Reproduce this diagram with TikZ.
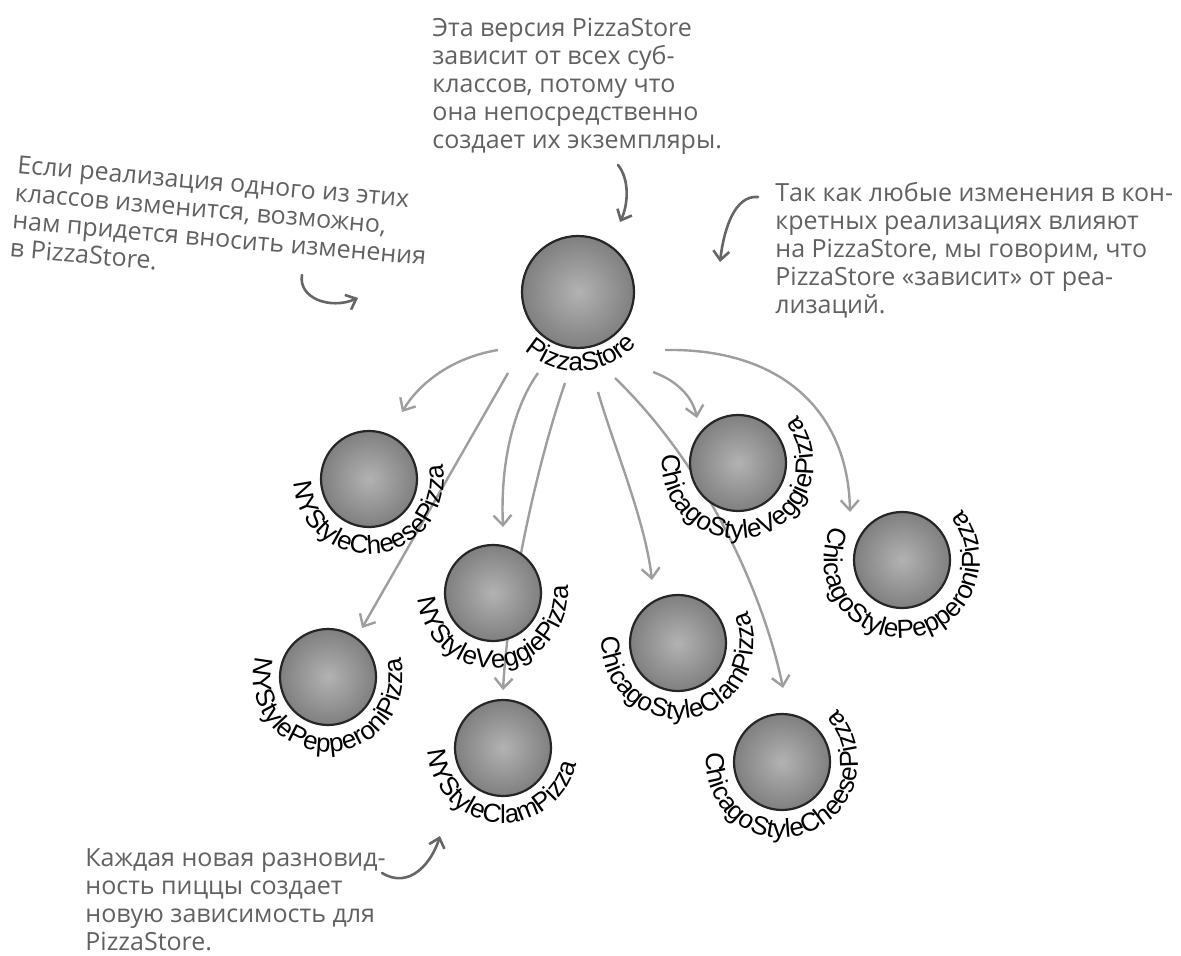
\documentclass[tikz,border=0pt]{standalone}
\usepackage{fontspec}
\setmainfont{Liberation Sans}
\newfontfamily\ballfamily{Liberation Sans}
\newfontfamily\notefamily{Open Sans}
\usetikzlibrary{arrows.meta,calc,decorations.text,backgrounds}
\newcommand{\balltext}{\ballfamily\fontsize{13pt}{15pt}\selectfont}
\newcommand{\notetext}{\notefamily\fontsize{12.5pt}{14pt}\selectfont}
% ball with its name bent round the lower half
\newcommand{\pizzaball}[6][ball]{%
  \node[#1] (#2) at (#3) {};
  \path[decorate, decoration={text along path, text align=center, text={|\balltext|#6}}]
    ($(#2)+(#4-150:#5)$) arc[start angle=#4-150, end angle=#4+150, radius=#5];
}

\begin{document}
\begin{tikzpicture}[
  x=0.5pt, y=0.5pt,
  ball/.style={circle, minimum size=48pt, inner sep=0pt, draw=black!85, line width=1.1pt,
    shade, inner color=black!30, outer color=black!50},
  bigball/.style={ball, minimum size=56pt},
  conn/.style={draw=black!38, line width=1.2pt, -{Straight Barb[length=5pt, width=9pt]}},
  remark/.style={font=\notetext, text=black!62, align=left, inner sep=0pt, anchor=north west},
  remarrow/.style={draw=black!60, line width=1.3pt, line cap=round, -{Straight Barb[length=4.5pt, width=8pt]}}
]
\useasboundingbox (0,0) rectangle (1181,-956);

% the classes
\pizzaball[bigball]{store}{578,-292}{273}{79}{PizzaStore}
\pizzaball{nycheese}{369,-479}{277}{75}{NYStyleCheesePizza}
\pizzaball{nyveggie}{493,-593}{275}{75}{NYStyleVeggiePizza}
\pizzaball{nypepperoni}{328,-677}{270}{75}{NYStylePepperoniPizza}
\pizzaball{nyclam}{503,-748}{265}{75}{NYStyleClamPizza}
\pizzaball{chveggie}{738,-463}{286}{76}{ChicagoStyleVeggiePizza}
\pizzaball{chpepperoni}{902,-560}{277}{78}{ChicagoStylePepperoniPizza}
\pizzaball{chclam}{678,-643}{280}{76}{ChicagoStyleClamPizza}
\pizzaball{chcheese}{782,-762}{288}{76}{ChicagoStyleCheesePizza}

% dependencies, behind the balls
\begin{scope}[on background layer]
\draw[conn] ($(store)+(-80,-58)$) .. controls +(-48,-8) and +(16,27) .. ($(nycheese)+(33,67)$);
\draw[conn] ($(store)+(-70,-81)$) -- ($(nypepperoni)+(34,49)$);
\draw[conn] ($(store)+(-40,-81)$) .. controls +(-23,-32) and +(-3,67) .. ($(nyveggie)+(10,66)$);
\draw[conn] ($(store)+(-13,-91)$) .. controls +(-30,-87) and +(5,90) .. ($(nyclam)+(0,58)$);
\draw[conn] ($(store)+(20,-100)$) .. controls +(17,-58) and +(-7,60) .. ($(chclam)+(-26,63)$);
\draw[conn] ($(store)+(37,-86)$) .. controls +(95,-92) and +(-18,88) .. ($(chcheese)+(1,74)$);
\draw[conn] ($(store)+(75,-80)$) .. controls +(22,-8) and +(-5,23) .. ($(chveggie)+(-41,45)$);
\draw[conn] ($(store)+(87,-58)$) .. controls +(115,2) and +(-2,102) .. ($(chpepperoni)+(-52,48)$);
\end{scope}

% remarks
\node[remark] (topnote) at (432,-18) {Эта версия PizzaStore\\зависит от всех суб-\\классов, потому что\\она непосредственно\\создает их экземпляры.};
\node[remark, rotate=-5] (leftnote) at (18,-155) {Если реализация одного из этих\\классов изменится, возможно,\\нам придется вносить изменения\\в PizzaStore.};
\node[remark] (rightnote) at (775,-182) {Так как любые изменения в кон-\\кретных реализациях влияют\\на PizzaStore, мы говорим, что\\PizzaStore «зависит» от реа-\\лизаций.};
\node[remark] (bottomnote) at (85,-848) {Каждая новая разновид-\\ность пиццы создает\\новую зависимость для\\PizzaStore.};

\coordinate (toptail) at (618,-165);
\coordinate (lefttail) at (302,-275);
\coordinate (lefttip) at (358,-298);
\coordinate (righttail) at (758,-197);
\coordinate (righttip) at (720,-262);
\coordinate (bottomtail) at (382,-873);
\coordinate (bottomtip) at (440,-836);
\draw[remarrow] (toptail) .. controls +(12,-15) and +(8,17) .. ($(store)+(42,70)$);
\draw[remarrow] (lefttail) .. controls +(-4,-23) and +(-28,-12) .. (lefttip);
\draw[remarrow] (righttail) .. controls +(-23,2) and +(4,34) .. (righttip);
\draw[remarrow] (bottomtail) .. controls +(28,-17) and +(-8,-26) .. (bottomtip);
\end{tikzpicture}
\end{document}
